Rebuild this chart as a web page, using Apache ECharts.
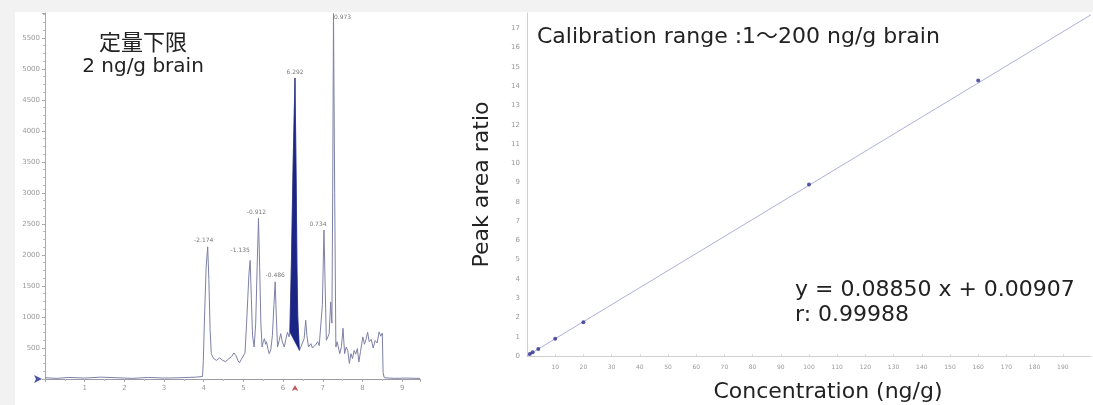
<!DOCTYPE html>
<html>
<head>
<meta charset="utf-8">
<script src="https://cdn.jsdelivr.net/npm/echarts@6/dist/echarts.min.js"></script>
<style>
html,body{margin:0;padding:0;background:#f2f2f2;}
#c{width:1093px;height:405px;}
</style>
</head>
<body>
<div id="c"></div>
<script>
// ---------- Left panel: chromatogram (retention time, intensity) ----------
const traceTime = [0,0.3,0.6,1.0,1.4,1.8,2.2,2.6,3.0,3.4,3.8,3.97,
  3.99,4.02,4.06,4.10,4.13,4.16,4.19,4.25,4.32,4.40,4.48,4.55,4.62,4.70,4.76,4.81,4.86,4.90,4.95,4.98,
  5.04,5.08,5.11,5.14,5.17,5.20,5.23,5.27,5.31,5.35,5.38,5.41,5.44,5.47,5.50,5.53,5.56,5.58,5.62,5.65,5.69,
  5.73,5.77,5.80,5.83,5.86,5.90,5.94,5.98,6.03,6.07,6.11,6.15,6.17,6.21,6.25,6.30,6.33,6.35,6.37,6.41,
  6.45,6.49,6.53,6.57,6.60,6.64,6.70,6.74,6.78,6.83,6.87,6.91,6.95,6.99,7.03,7.06,7.09,7.13,7.16,7.20,7.23,
  7.25,7.27,7.30,7.33,7.36,7.39,7.43,7.47,7.51,7.55,7.59,7.63,7.67,7.71,7.75,7.79,7.83,7.87,7.91,7.95,
  8.01,8.05,8.09,8.13,8.17,8.22,8.27,8.32,8.37,8.42,8.46,8.50,8.52,8.55,8.8,9.1,9.45];
const traceIntensity = [20,10,25,15,30,20,10,25,15,20,30,40,
  300,1000,1800,2131,1600,800,409,330,300,340,300,280,320,360,420,380,300,260,320,290,
  420,900,1300,1700,1912,1300,700,516,900,1900,2590,1800,900,516,600,650,560,600,480,409,470,
  700,1200,1566,1000,516,620,731,600,516,640,754,680,754,1900,3400,4853,3200,1800,1000,462,
  520,516,650,947,700,516,570,500,516,560,600,540,570,1200,2401,1500,624,680,731,1243,900,
  3000,5892,3000,516,600,624,409,520,818,409,516,460,250,409,330,460,400,490,274,440,
  678,560,640,754,600,640,500,620,580,760,690,740,100,20,10,15,10];
const peakTime = [4.10,5.17,5.38,5.80,6.30,7.03,7.27];
const peakHeight = [2131,1912,2590,1566,4853,2401,5892];
const peakLabels = ['-2.174','-1.135','-0.912','-0.486','6.292','0.734','0.973'];
const filledPeakRange = [6.17, 6.41];
const chromXTicks = [1,2,3,4,5,6,7,8,9];

// ---------- Right panel: calibration curve ----------
const calConc = [1,2,4,10,20,100,160];
const calRatio = [0.10,0.19,0.36,0.90,1.75,8.90,14.30];
const fitConc = [0,200];
const fitRatio = [0.00907,17.709];

// ---------- build ----------
const tracePts = traceTime.map((t,i)=>[t,traceIntensity[i]]);
const fillPts = tracePts.filter(p=>p[0]>=filledPeakRange[0] && p[0]<=filledPeakRange[1]);
const labelOffsets = [[-4,0],[-10,-4],[-2,0],[0,0],[0,0],[-6,0],[9,10]];

const chart = echarts.init(document.getElementById('c'), null, {renderer:'canvas'});
const latin = 'DejaVu Sans, "Noto Sans CJK JP", sans-serif';

const option = {
  backgroundColor:'#f2f2f2',
  animation:false,
  graphic:[
    {type:'rect', z:-10, silent:true, shape:{x:15,y:12,width:1078,height:393}, style:{fill:'#ffffff'}},
    {type:'text', z:10, style:{text:'定量下限', x:143, y:42, align:'center', verticalAlign:'middle', font:'22px "Noto Sans CJK JP", sans-serif', fill:'#222'}},
    {type:'text', z:10, style:{text:'2 ng/g brain', x:143, y:67, align:'center', verticalAlign:'middle', font:'20px '+latin, fill:'#222'}},
    {type:'text', z:10, style:{text:'Calibration range :1～200 ng/g brain', x:537, y:37, align:'left', verticalAlign:'middle', font:'22px '+latin, fill:'#222'}},
    {type:'text', z:10, style:{text:'y = 0.08850 x + 0.00907', x:795, y:290, align:'left', verticalAlign:'middle', font:'22px '+latin, fill:'#222'}},
    {type:'text', z:10, style:{text:'r: 0.99988', x:795, y:315, align:'left', verticalAlign:'middle', font:'22px '+latin, fill:'#222'}}
  ],
  grid:[
    {left:45, top:13, right:673, bottom:26, outerBoundsMode:'none', containLabel:false},
    {left:527, top:13, right:2, bottom:49, outerBoundsMode:'none', containLabel:false}
  ],
  xAxis:[
    {gridIndex:0, type:'value', min:0, max:9.45, interval:1,
     axisLine:{lineStyle:{color:'#9a9aa8', width:1}},
     axisTick:{show:true, length:3, inside:false, lineStyle:{color:'#aaa'}},
     minorTick:{show:true, splitNumber:2, length:2, lineStyle:{color:'#bbb'}},
     splitLine:{show:false},
     axisLabel:{showMinLabel:false, showMaxLabel:false, fontSize:7, color:'#999', margin:6, fontFamily:latin,
       formatter:v=>chromXTicks.includes(v)?String(v):''}},
    {gridIndex:1, type:'value', min:0, max:200, interval:10,
     name:'Concentration (ng/g)', nameLocation:'middle', nameGap:25,
     nameTextStyle:{fontSize:22, color:'#222', fontFamily:latin, padding:[0,0,0,38]},
     axisLine:{lineStyle:{color:'#d0d0d0', width:1}},
     axisTick:{show:true, length:2, inside:true, lineStyle:{color:'#ddd'}},
     splitLine:{show:false},
     axisLabel:{showMinLabel:false, showMaxLabel:false, fontSize:6, color:'#999', margin:8, fontFamily:latin}}
  ],
  yAxis:[
    {gridIndex:0, type:'value', min:0, max:5900, interval:500,
     axisLine:{show:true, lineStyle:{color:'#aaa', width:1}},
     axisTick:{show:true, length:3, lineStyle:{color:'#aaa'}},
     minorTick:{show:true, splitNumber:4, length:2, lineStyle:{color:'#bbb'}},
     splitLine:{show:false},
     axisLabel:{showMinLabel:false, showMaxLabel:false, fontSize:7, color:'#999', margin:5, fontFamily:latin,
       formatter:v=>String(v)}},
    {gridIndex:1, type:'value', min:0, max:17.8, interval:1,
     name:'Peak area ratio', nameLocation:'middle', nameGap:34,
     nameTextStyle:{fontSize:22, color:'#222', fontFamily:latin},
     axisLine:{show:true, lineStyle:{color:'#d0d0d0', width:1}},
     axisTick:{show:false},
     splitLine:{show:false},
     axisLabel:{showMaxLabel:false, fontSize:7, color:'#999', margin:7, fontFamily:latin}}
  ],
  series:[
    {type:'line', xAxisIndex:0, yAxisIndex:0, data:tracePts, showSymbol:false, z:2,
     lineStyle:{color:'#7d80a6', width:1}},
    {type:'custom', xAxisIndex:0, yAxisIndex:0, data:fillPts, z:3,
     renderItem:(params, api)=>{
       if(params.dataIndex!==0) return null;
       const pts = fillPts.map(p=>api.coord(p));
       return {type:'polygon', shape:{points:pts}, style:{fill:'#1b2585', stroke:'#1b2585', lineWidth:0.5}};
     }},
    {type:'scatter', xAxisIndex:0, yAxisIndex:0, symbolSize:0, z:4,
     data:peakTime.map((t,i)=>({value:[t,peakHeight[i]],
       label:{show:true, position:'top', distance:3, offset:labelOffsets[i], formatter:peakLabels[i],
              fontSize:6, color:'#555', fontFamily:latin}}))},
    {type:'scatter', xAxisIndex:0, yAxisIndex:0, clip:false, z:5,
     data:[{value:[0,0], symbol:'arrow', symbolSize:[6,8], symbolRotate:-90, symbolOffset:[-3,0], itemStyle:{color:'#1b2585'}},
           {value:[peakTime[4],0], symbol:'arrow', symbolSize:[5,6], symbolOffset:[0,6], itemStyle:{color:'#b03030'}}]},
    {type:'line', xAxisIndex:1, yAxisIndex:1, data:fitConc.map((c,i)=>[c,fitRatio[i]]), showSymbol:false, z:2,
     lineStyle:{color:'#aeb0dc', width:1}},
    {type:'scatter', xAxisIndex:1, yAxisIndex:1, data:calConc.map((c,i)=>[c,calRatio[i]]), z:3,
     symbolSize:4, itemStyle:{color:'#2e2d8e'}}
  ]
};
chart.setOption(option);
</script>
</body>
</html>
